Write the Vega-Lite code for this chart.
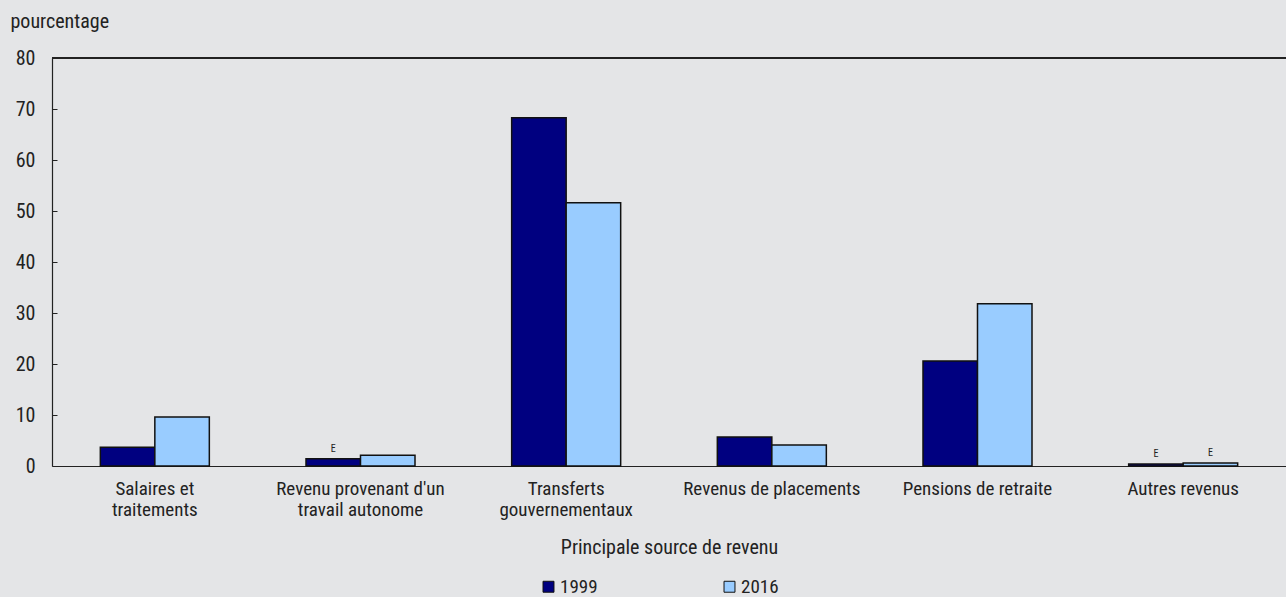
{
  "$schema": "https://vega.github.io/schema/vega-lite/v6.json",
  "width": 1234,
  "height": 408,
  "autosize": {"type": "none"},
  "padding": {"left": 52, "top": 58, "right": 0, "bottom": 131},
  "background": "#e4e5e7",
  "config": {
    "font": "Roboto Condensed, DejaVu Sans Condensed, Roboto, sans-serif",
    "view": {"stroke": null},
    "axis": {"labelColor": "#222222", "titleColor": "#222222", "labelFont": "Roboto Condensed, DejaVu Sans Condensed, Roboto, sans-serif", "titleFont": "Roboto Condensed, DejaVu Sans Condensed, Roboto, sans-serif"},
    "legend": {"labelFont": "Roboto Condensed, DejaVu Sans Condensed, Roboto, sans-serif"}
  },
  "data": {
    "values": [
      {"source": "Salaires et traitements", "year": "1999", "value": 3.7, "flag": ""},
      {"source": "Salaires et traitements", "year": "2016", "value": 9.6, "flag": ""},
      {"source": "Revenu provenant d'un travail autonome", "year": "1999", "value": 1.4, "flag": "E"},
      {"source": "Revenu provenant d'un travail autonome", "year": "2016", "value": 2.1, "flag": ""},
      {"source": "Transferts gouvernementaux", "year": "1999", "value": 68.3, "flag": ""},
      {"source": "Transferts gouvernementaux", "year": "2016", "value": 51.6, "flag": ""},
      {"source": "Revenus de placements", "year": "1999", "value": 5.7, "flag": ""},
      {"source": "Revenus de placements", "year": "2016", "value": 4.1, "flag": ""},
      {"source": "Pensions de retraite", "year": "1999", "value": 20.6, "flag": ""},
      {"source": "Pensions de retraite", "year": "2016", "value": 31.8, "flag": ""},
      {"source": "Autres revenus", "year": "1999", "value": 0.4, "flag": "E"},
      {"source": "Autres revenus", "year": "2016", "value": 0.6, "flag": "E"}
    ]
  },
  "encoding": {
    "x": {
      "field": "source",
      "type": "nominal",
      "sort": null,
      "scale": {"paddingInner": 0.47, "paddingOuter": 0.235},
      "axis": {
        "title": "Principale source de revenu",
        "titleFontSize": 20,
        "titleFontWeight": "normal",
        "titlePadding": 18,
        "labelAngle": 0,
        "labelFontSize": 19,
        "labelLineHeight": 21,
        "labelPadding": 13,
        "labelLimit": 300,
        "ticks": false,
        "domainColor": "#222222",
        "domainWidth": 1.2,
        "labelExpr": "datum.label == 'Salaires et traitements' ? ['Salaires et', 'traitements'] : datum.label == \"Revenu provenant d'un travail autonome\" ? [\"Revenu provenant d'un\", 'travail autonome'] : datum.label == 'Transferts gouvernementaux' ? ['Transferts', 'gouvernementaux'] : datum.label"
      }
    },
    "xOffset": {"field": "year", "type": "nominal"},
    "y": {
      "field": "value",
      "type": "quantitative",
      "scale": {"domain": [0, 80], "nice": false},
      "axis": {
        "title": "pourcentage",
        "titleAngle": 0,
        "titleAlign": "left",
        "titleBaseline": "alphabetic",
        "titleX": -42,
        "titleY": -31,
        "titleFontSize": 20,
        "titleFontWeight": "normal",
        "values": [0, 10, 20, 30, 40, 50, 60, 70, 80],
        "labelFontSize": 20,
        "grid": false,
        "tickSize": -5,
        "tickColor": "#222222",
        "domainColor": "#222222",
        "domainWidth": 1.2,
        "labelPadding": 22
      }
    }
  },
  "layer": [
    {
      "mark": {"type": "bar", "stroke": "#111111", "strokeWidth": 1.5},
      "encoding": {
        "color": {
          "field": "year",
          "type": "nominal",
          "scale": {"domain": ["1999", "2016"], "range": ["#000080", "#99ccff"]},
          "legend": {
            "title": null,
            "orient": "none",
            "direction": "horizontal",
            "legendX": 487,
            "legendY": 519,
            "symbolType": "square",
            "symbolSize": 120,
            "symbolStrokeColor": "#111111",
            "symbolStrokeWidth": 1,
            "labelFontSize": 19,
            "labelColor": "#222222",
            "columnPadding": 122,
            "labelOffset": 2
          }
        }
      }
    },
    {
      "mark": {"type": "text", "fontSize": 10, "dy": -5, "baseline": "bottom", "color": "#222222"},
      "encoding": {"text": {"field": "flag"}}
    },
    {
      "mark": {"type": "rule", "color": "#222222", "strokeWidth": 1.2},
      "encoding": {"y": {"datum": 80}, "x": null, "xOffset": null}
    }
  ]
}
